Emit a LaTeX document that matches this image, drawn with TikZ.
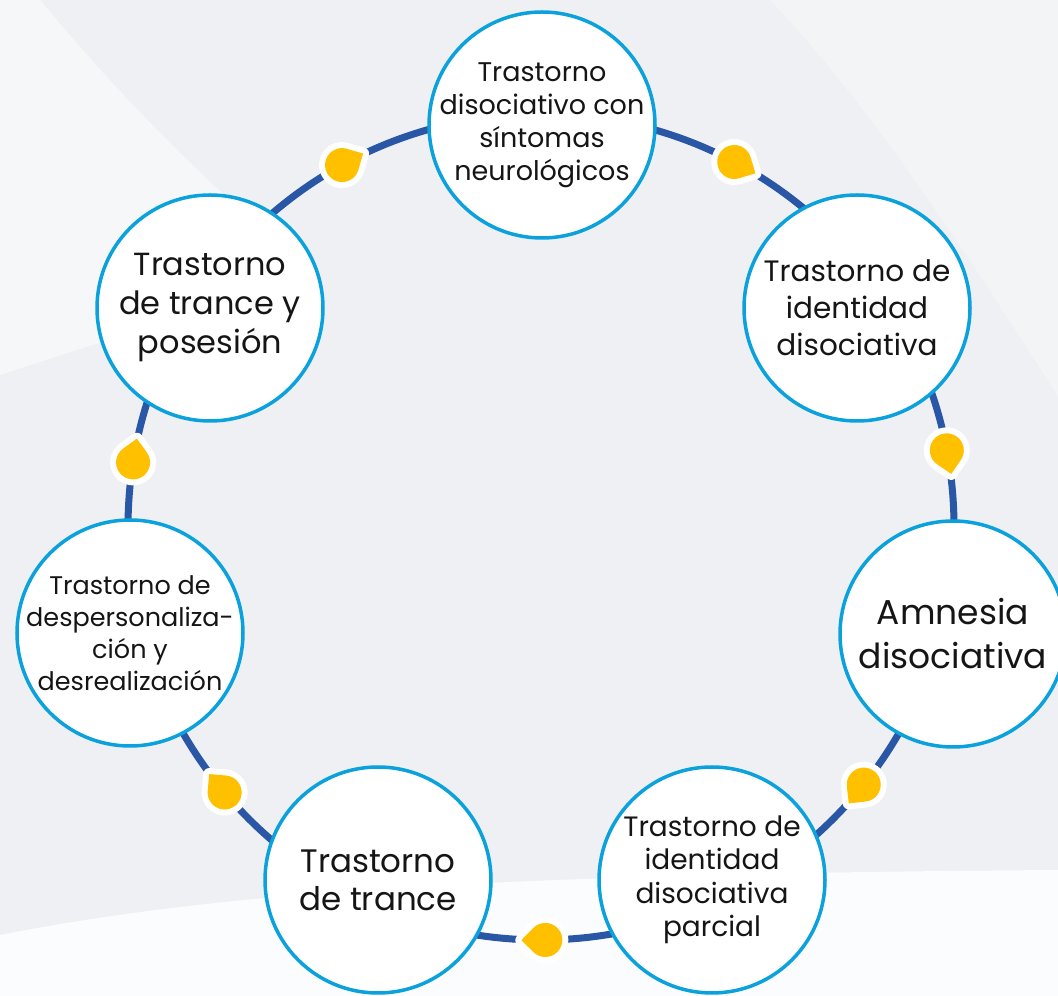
\documentclass[tikz,border=0pt]{standalone}
\usepackage{fontspec}
\setmainfont{Poppins}
\usetikzlibrary{calc}
\definecolor{bgbase}{HTML}{EEF0F3}
\definecolor{bglight}{HTML}{F6F7F9}
\definecolor{bgmid}{HTML}{F3F4F6}
\definecolor{ringblue}{HTML}{2A56A6}
\definecolor{rimblue}{HTML}{0BA1DD}
\definecolor{dropyellow}{HTML}{FFC000}
\definecolor{txt}{HTML}{151515}
\tikzset{
  x=1pt, y=1pt,
  bubble/.style={circle, draw=rimblue, line width=3.5pt, fill=white,
    minimum size=226pt, inner sep=0pt},
  bubbletext/.style={align=center, text=txt, inner sep=0pt},
  ringline/.style={draw=ringblue, line width=7pt},
  droplet/.pic={
    \filldraw[white, line width=12pt, line join=round]
      (24pt,0pt) -- (45:17pt) arc[start angle=45, end angle=315, radius=17pt] -- cycle;
    \fill[dropyellow]
      (24pt,0pt) -- (45:17pt) arc[start angle=45, end angle=315, radius=17pt] -- cycle;
  }
}
\newcommand{\fs}[2]{\fontsize{#1pt}{#2pt}\selectfont}
\begin{document}
\begin{tikzpicture}
\useasboundingbox (0,0) rectangle (1058,996);
% background
\fill[bgbase] (0,0) rectangle (1058,996);
\fill[bglight] (0,996) -- (40,996) .. controls (120,900) and (190,830) .. (270,760)
  -- (120,660) -- (0,621) -- cycle;
\fill[bgmid] (770,996) .. controls (880,880) and (980,720) .. (1058,600) -- (1058,996) -- cycle;
\fill[white!60!bglight] (0,0) -- (0,61) .. controls (200,100) and (450,122) .. (1058,126) -- (1058,0) -- cycle;
\clip (0,0) rectangle (1058,996);
% ring
\coordinate (ctr) at (541,469);
\draw[ringline] (ctr) circle (413pt);
% droplets
\pic[rotate=28.8]   at ($(ctr)+(118.8:413pt)$) {droplet};
\pic[rotate=-27.9]  at ($(ctr)+(62.1:413pt)$)  {droplet};
\pic[rotate=-79.3]  at ($(ctr)+(10.7:413pt)$)  {droplet};
\pic[rotate=-128.6] at ($(ctr)+(-38.6:413pt)$) {droplet};
\pic[rotate=-179.4] at ($(ctr)+(-89.4:413pt)$) {droplet};
\pic[rotate=130]    at ($(ctr)+(-140:413pt)$)  {droplet};
\pic[rotate=81]     at ($(ctr)+(171:413pt)$)   {droplet};
% bubbles
\node[bubble, label={[bubbletext, font=\fs{27}{33}]center:Trastorno\\disociativo con\\síntomas\\neurológicos}] (c1) at (542,871) {};
\node[bubble, label={[bubbletext, font=\fs{29.5}{37}]center:Trastorno de\\identidad\\disociativa}] (c2) at (857,688) {};
\node[bubble, label={[bubbletext, font=\fs{34.5}{44}]center:Amnesia\\disociativa}] (c3) at (953,362) {};
\node[bubble, label={[bubbletext, font=\fs{28}{33.5}]center:Trastorno de\\identidad\\disociativa\\parcial}] (c4) at (712,116) {};
\node[bubble, label={[bubbletext, font=\fs{32.5}{38}]center:Trastorno\\de trance}] (c5) at (378,116) {};
\node[bubble, label={[bubbletext, font=\fs{25.5}{32}]center:Trastorno de\\despersonaliza-\\ción y\\desrealización}] (c6) at (130,363) {};
\node[bubble, label={[bubbletext, font=\fs{32}{39}]center:Trastorno\\de trance y\\posesión}] (c7) at (210,688) {};
\end{tikzpicture}
\end{document}
